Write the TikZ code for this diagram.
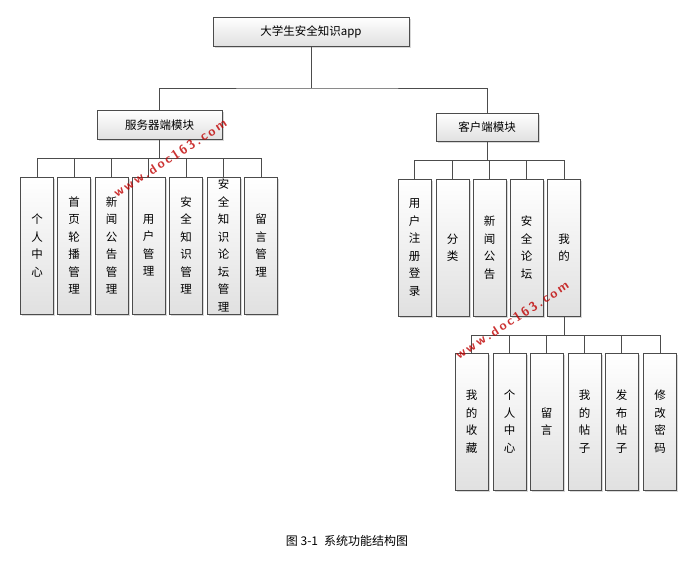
\documentclass[tikz,border=0pt]{standalone}
\usepackage{fontspec}
\newfontfamily\cjk{Noto Sans CJK SC}
\usetikzlibrary{shadows}
\begin{document}
\begin{tikzpicture}[x=1pt,y=-1pt,
  box/.style={draw=black!70,top color=white,bottom color=black!12,drop shadow={shadow xshift=1.5pt,shadow yshift=-1.5pt,fill=black!30},font=\cjk\fontsize{11.5}{17.5}\selectfont,inner sep=0pt},
  vbox/.style={box,minimum width=33pt,minimum height=137pt,align=center},
  ln/.style={draw=black!70,line width=0.6pt},
  wm/.style={text=red!75!black,font=\sffamily\bfseries\fontsize{13}{13}\selectfont,rotate=33,opacity=0.8}]
\useasboundingbox (0,0) rectangle (694,570);
\node[box,minimum width=196pt,minimum height=29pt] (root) at (311,31.5) {大学生安全知识app};
\node[box,minimum width=125pt,minimum height=29pt] (srv) at (159.5,125) {服务器端模块};
\node[box,minimum width=102pt,minimum height=28pt] (cli) at (487,127) {客户端模块};
\draw[ln] (root.south) -- (311,88) coordinate (r1);
\draw[ln] (srv.north) |- (r1) -| (cli.north);
\foreach \n/\x/\t in {s1/37/个\\人\\中\\心, s2/74/首\\页\\轮\\播\\管\\理, s3/111.5/新\\闻\\公\\告\\管\\理, s4/148.5/用\\户\\管\\理, s5/186/安\\全\\知\\识\\管\\理, s6/223.5/安\\全\\知\\识\\论\\坛\\管\\理, s7/261/留\\言\\管\\理}{
  \node[vbox] (\n) at (\x,245.5) {\t};
  \draw[ln] (\n.north) -- (\x,158);
}
\draw[ln] (srv.south) -- (159.5,158);
\draw[ln] (s1.north|-0,158) -- (s7.north|-0,158);
\foreach \n/\x/\t in {c1/414.5/用\\户\\注\\册\\登\\录, c2/452.5/分\\类, c3/489.5/新\\闻\\公\\告, c4/526.5/安\\全\\论\\坛, c5/564/我\\的}{
  \node[vbox] (\n) at (\x,247.5) {\t};
  \draw[ln] (\n.north) -- (\x,160);
}
\draw[ln] (cli.south) -- (487,160);
\draw[ln] (c1.north|-0,160) -- (c5.north|-0,160);
\foreach \n/\x/\t in {m1/471.5/我\\的\\收\\藏, m2/509.5/个\\人\\中\\心, m3/546.5/留\\言, m4/584.5/我\\的\\帖\\子, m5/621.5/发\\布\\帖\\子, m6/660/修\\改\\密\\码}{
  \node[vbox] (\n) at (\x,421.5) {\t};
  \draw[ln] (\n.north) -- (\x,335);
}
\draw[ln] (c5.south) -- (564,335);
\draw[ln] (m1.north|-0,335) -- (m6.north|-0,335);
\node[font=\cjk\fontsize{12}{14}\selectfont] (cap) at (347,541) {图 3-1\enspace 系统功能结构图};
\node[wm] (w1) at (170,158) {w\,w\,w\,.\,d\,o\,c\,1\,6\,3\,.\,c\,o\,m};
\node[wm] (w2) at (512,320) {w\,w\,w\,.\,d\,o\,c\,1\,6\,3\,.\,c\,o\,m};
\end{tikzpicture}
\end{document}
